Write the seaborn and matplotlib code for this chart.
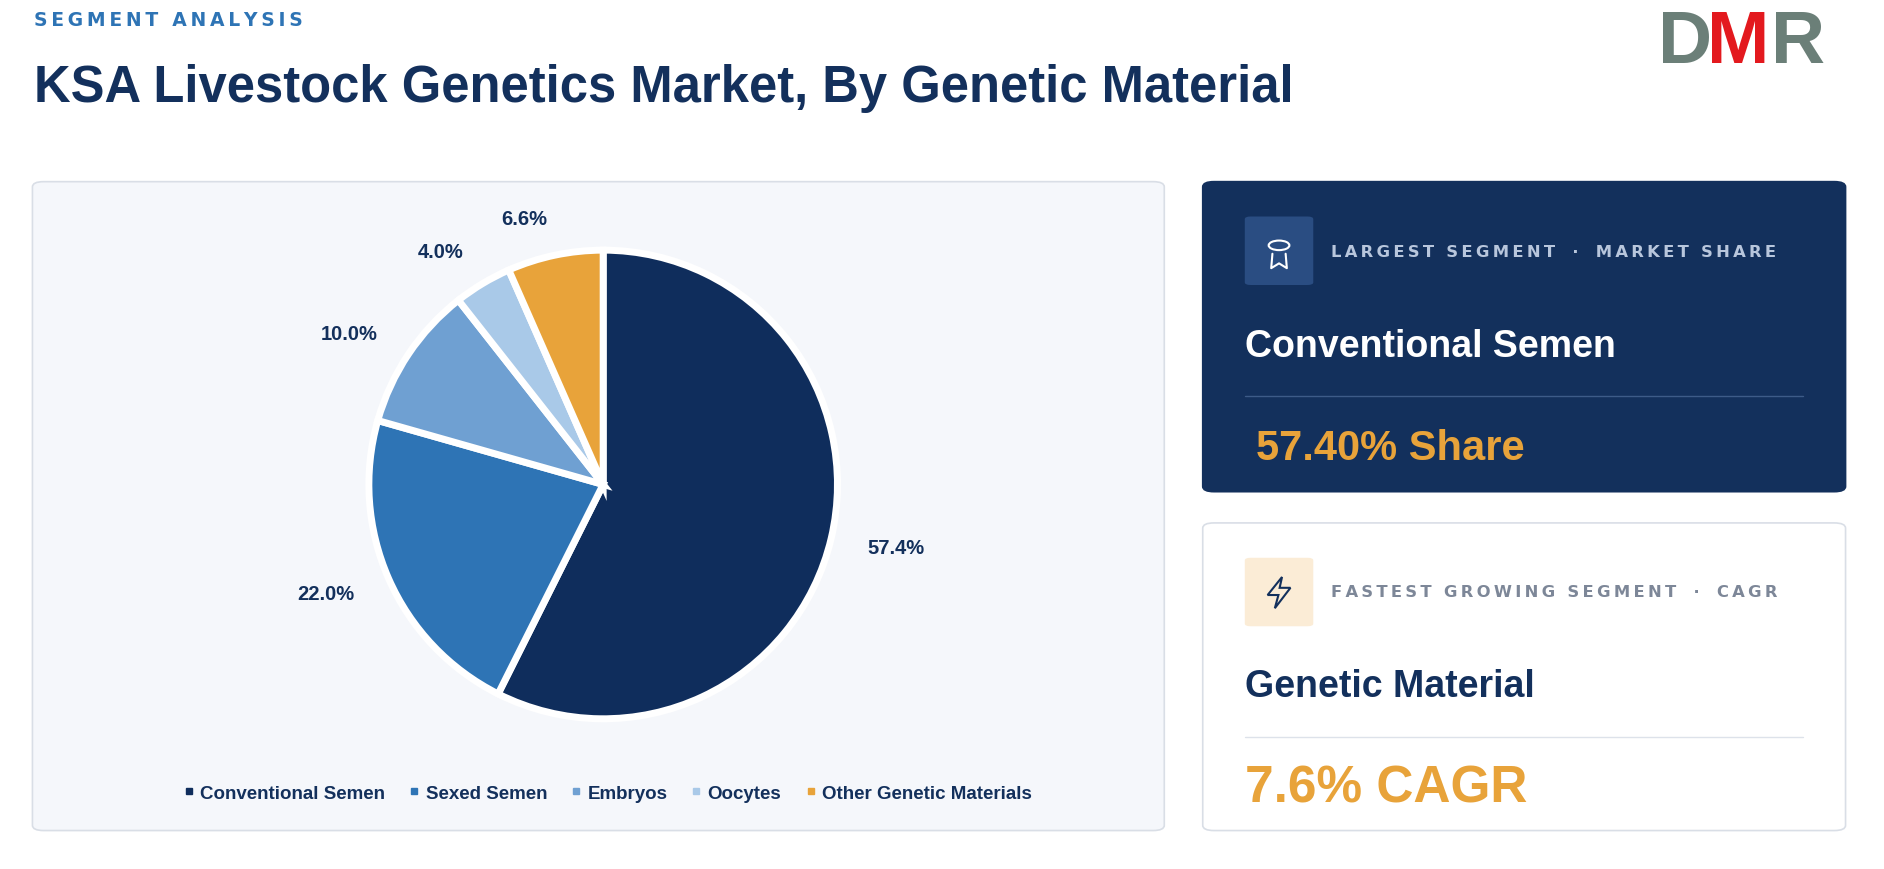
import matplotlib
matplotlib.use("Agg")
import matplotlib.pyplot as plt
import seaborn as sns
from matplotlib.patches import FancyBboxPatch, Circle, Polygon
from matplotlib.lines import Line2D

segments = ["Conventional Semen", "Sexed Semen", "Embryos", "Oocytes", "Other Genetic Materials"]
shares = [57.4, 22.0, 10.0, 4.0, 6.6]
colors = ["#0f2d5c", "#2e74b5", "#6fa0d2", "#a9c9e8", "#e8a33a"]
largest_name = "Conventional Semen"
largest_value = "57.40% Share"
fastest_name = "Genetic Material"
fastest_value = "7.6% CAGR"

sns.set_theme(style="white")
plt.rcParams['font.family'] = ['Liberation Sans', 'DejaVu Sans']

W, H = 1568, 724
fig = plt.figure(figsize=(18.84, 8.70), dpi=100)
fig.patch.set_facecolor("white")

def fx(x): return x / W
def fy(y): return 1 - y / H

def spaced(s):
    return "\u2009".join(s)

def card(x0, y0, x1, y1, fc, ec):
    p = FancyBboxPatch((fx(x0), fy(y1)), fx(x1) - fx(x0), fy(y0) - fy(y1),
                       boxstyle="round,pad=0,rounding_size=0.006", transform=fig.transFigure,
                       facecolor=fc, edgecolor=ec, linewidth=1.2, zorder=0)
    fig.patches.append(p)

navy = "#13305c"
fig.text(fx(28), fy(17), spaced("SEGMENT ANALYSIS"), color="#2e74b5", fontsize=13.5, fontweight="bold",
         va="center", family=['DejaVu Sans'])
fig.text(fx(28), fy(74), "KSA Livestock Genetics Market, By Genetic Material", color=navy,
         fontsize=36.5, fontweight="bold", va="center")
# logo
fig.text(fx(1380), fy(36), "D", color="#6b7f78", fontsize=54, fontweight="bold", va="center")
fig.text(fx(1421), fy(36), "M", color="#e3191e", fontsize=54, fontweight="bold", va="center")
fig.text(fx(1474), fy(36), "R", color="#6b7f78", fontsize=54, fontweight="bold", va="center")

# chart panel
card(27, 152, 969, 692, "#f5f7fb", "#d9dee6")

cx, cy, r = 502, 404, 195
k = 1.45
ax = fig.add_axes([fx(cx - k * r), fy(cy + k * r), (2 * k * r) / W, (2 * k * r) / H], zorder=3)
ax.patch.set_alpha(0)
ax.pie(shares, colors=colors, startangle=90, counterclock=False,
       wedgeprops=dict(edgecolor="white", linewidth=5),
       labels=[f"{v:.1f}%" for v in shares], labeldistance=1.16,
       textprops=dict(color=navy, fontsize=14.5, fontweight="bold"))
ax.set_xlim(-k, k)
ax.set_ylim(-k, k)
ax.set_aspect("auto")
ax.axis("off")

handles = [Line2D([], [], marker="s", linestyle="", color=c, markersize=4) for c in colors]
fig.legend(handles, segments, loc="center", bbox_to_anchor=(fx(506), fy(661)), ncol=5,
           frameon=False, handlelength=0.5, handletextpad=0.35, columnspacing=1.3,
           prop=dict(size=13.5, weight="bold"), labelcolor=navy)

# dark card
card(1001, 152, 1536, 410, "#13305c", "#13305c")
fig.patches.append(FancyBboxPatch((fx(1036), fy(238)), fx(1093) - fx(1036), fy(181) - fy(238),
                   boxstyle="round,pad=0,rounding_size=0.003", transform=fig.transFigure,
                   facecolor="#2a4d82", edgecolor="none"))
fig.patches.append(Circle((fx(1064.5), fy(205)), 0.0055, transform=fig.transFigure,
                   facecolor="none", edgecolor="white", linewidth=1.5))
fig.add_artist(Line2D([fx(1059), fx(1058), fx(1064.5), fx(1071), fx(1070)],
                      [fy(212), fy(224), fy(220), fy(224), fy(212)], color="white", linewidth=1.5,
                      transform=fig.transFigure))
fig.text(fx(1108), fy(210), spaced("LARGEST SEGMENT") + "   ·   " + spaced("MARKET SHARE"),
         color="#b8c6dc", fontsize=11.8, fontweight="bold", va="center", family=['DejaVu Sans'])
fig.text(fx(1036), fy(289), largest_name, color="white", fontsize=27, fontweight="bold", va="center")
fig.add_artist(Line2D([fx(1036), fx(1501)], [fy(330), fy(330)], color="#3d5b88", linewidth=1,
                      transform=fig.transFigure))
fig.text(fx(1045), fy(374), largest_value, color="#e8a33a", fontsize=30, fontweight="bold", va="center")

# white card
card(1001, 436, 1536, 692, "white", "#d9dee6")
fig.patches.append(FancyBboxPatch((fx(1036), fy(522)), fx(1093) - fx(1036), fy(465) - fy(522),
                   boxstyle="round,pad=0,rounding_size=0.003", transform=fig.transFigure,
                   facecolor="#fbecd6", edgecolor="none"))
fig.patches.append(Polygon([(fx(1067), fy(481)), (fx(1055), fy(496)), (fx(1064), fy(496)),
                            (fx(1061), fy(507)), (fx(1074), fy(490)), (fx(1065), fy(490))],
                           closed=True, transform=fig.transFigure, facecolor="none",
                           edgecolor=navy, linewidth=1.5))
fig.text(fx(1108), fy(493), spaced("FASTEST GROWING SEGMENT") + "   ·   " + spaced("CAGR"),
         color="#7d8798", fontsize=11.8, fontweight="bold", va="center", family=['DejaVu Sans'])
fig.text(fx(1036), fy(572), fastest_name, color=navy, fontsize=27, fontweight="bold", va="center")
fig.add_artist(Line2D([fx(1036), fx(1501)], [fy(614), fy(614)], color="#dde2ea", linewidth=1,
                      transform=fig.transFigure))
fig.text(fx(1036), fy(657), fastest_value, color="#e8a33a", fontsize=37, fontweight="bold", va="center")

fig.savefig("out.png", dpi=100)
